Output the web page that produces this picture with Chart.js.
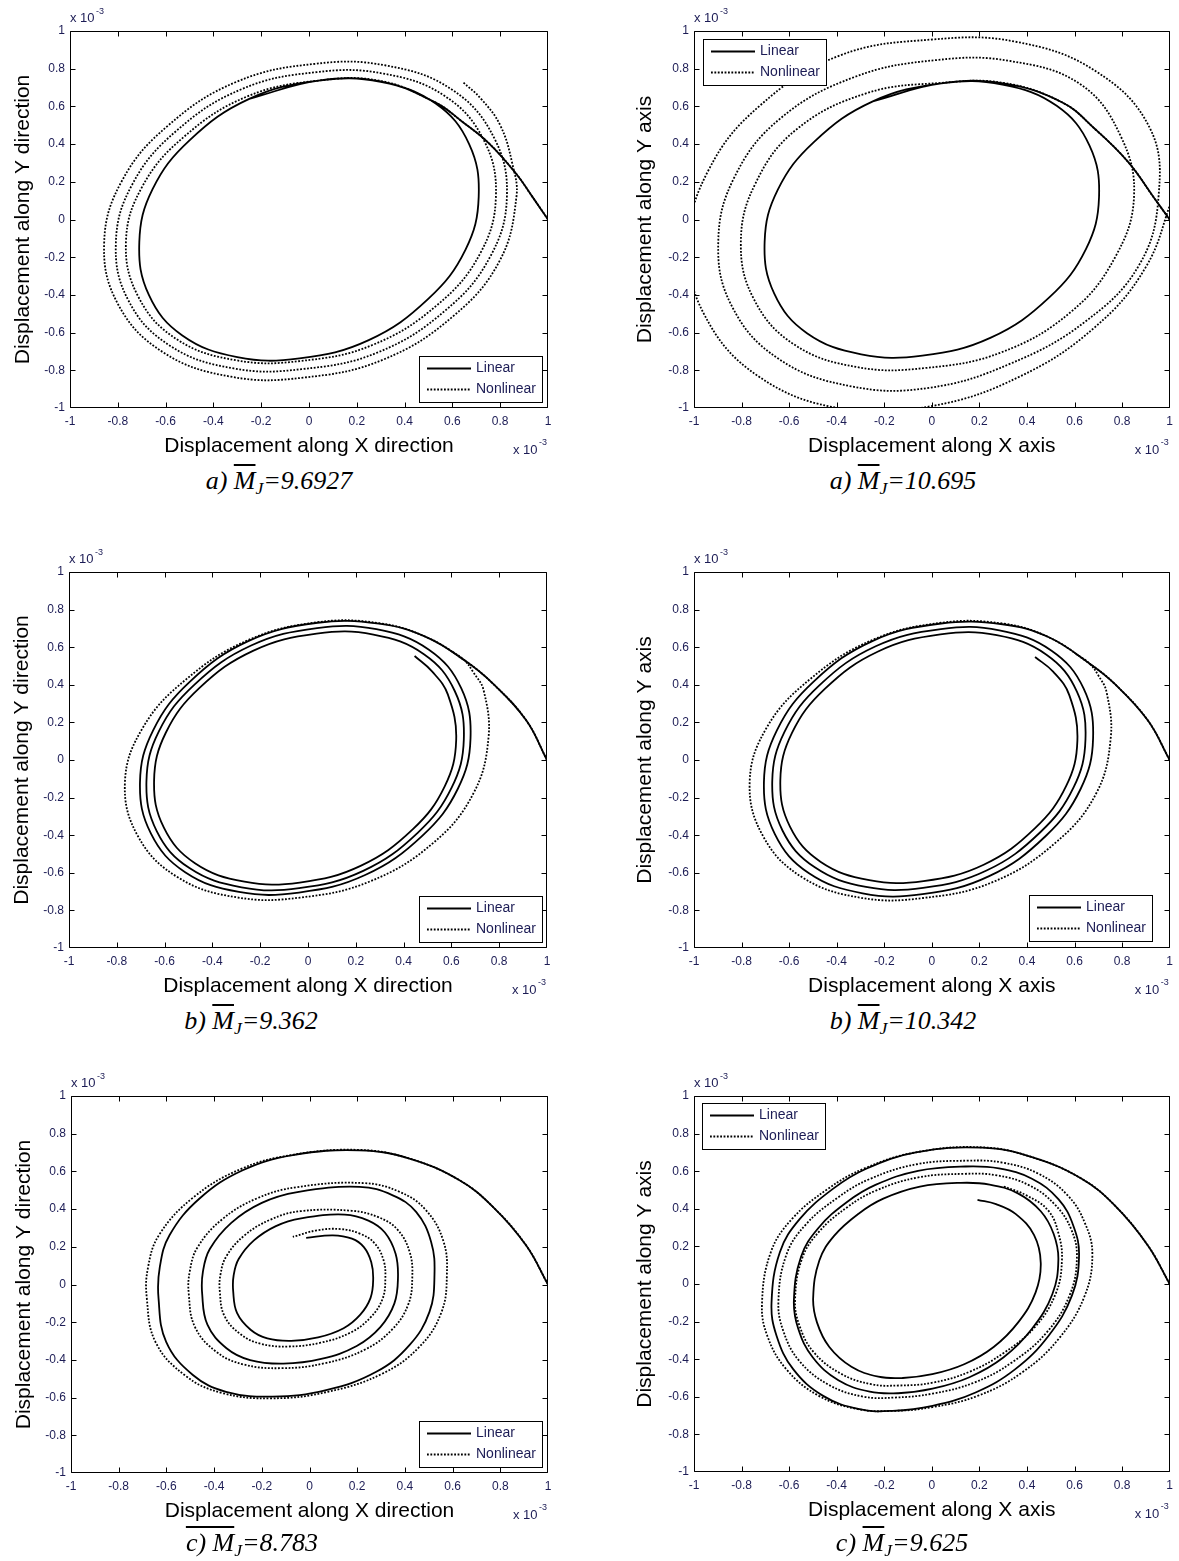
<!DOCTYPE html>
<html><head><meta charset="utf-8">
<script src="https://cdn.jsdelivr.net/npm/chart.js@4.4.1/dist/chart.umd.min.js"></script>
<style>
html,body{margin:0;padding:0;background:#fff;}
#page{position:relative;width:1179px;height:1561px;overflow:hidden;background:#fff;}
canvas{position:absolute;}
.cap{position:absolute;transform:translate(-50%,-50%);font-family:"Liberation Serif","DejaVu Serif",serif;font-style:italic;font-size:26px;white-space:nowrap;color:#000;line-height:1;}
.cap .ov{text-decoration:overline;text-decoration-thickness:1.5px;}
.cap sub{font-size:0.68em;vertical-align:-0.3em;line-height:0;}
</style></head><body><div id="page"></div>
<script>
// ---------- data ----------
const tickValues = [-1,-0.8,-0.6,-0.4,-0.2,0,0.2,0.4,0.6,0.8,1];
const seriesNames = ['Linear','Nonlinear'];
const panelLabels = ['a)','a)','b)','b)','c)','c)'];
const mValues = ['9.6927','10.695','9.362','10.342','8.783','9.625'];
const xTitles = ['Displacement along X direction','Displacement along X axis','Displacement along X direction','Displacement along X axis','Displacement along X direction','Displacement along X axis'];
const yTitles = ['Displacement along Y direction','Displacement along Y axis','Displacement along Y direction','Displacement along Y axis','Displacement along Y direction','Displacement along Y axis'];
const exponentText = ['x 10','-3'];

// panel a (left), M=9.6927
const a1Linear = [[1,0],[0.935,0.12],[0.866,0.244],[0.754,0.403],[0.64,0.52],[0.53,0.62],[0.30,0.733],
 [0.04,0.737],[-0.25,0.64],[-0.50,0.42],[-0.655,0.16],[-0.71,-0.12],[-0.67,-0.40],[-0.53,-0.615],[-0.30,-0.73],[-0.04,-0.737],[0.25,-0.64],[0.50,-0.42],[0.655,-0.16],
 [0.71,0.12],[0.67,0.40],[0.53,0.615],[0.30,0.73],[0.04,0.737],[-0.25,0.64]];
const a1Nonlinear = [[1,0],[0.935,0.12],[0.866,0.244],[0.754,0.403],[0.64,0.52],[0.53,0.62],[0.30,0.735],
 [0.04,0.737],[-0.258,0.653],[-0.523,0.439],[-0.697,0.176],[-0.766,-0.12],[-0.712,-0.415],[-0.55,-0.638],[-0.304,-0.747],[-0.038,-0.751],[0.265,-0.666],[0.538,-0.452],[0.715,-0.183],[0.782,0.12],[0.731,0.422],[0.567,0.656],[0.311,0.774],
 [0.033,0.782],[-0.281,0.692],[-0.557,0.468],[-0.737,0.192],[-0.808,-0.12],[-0.755,-0.431],[-0.58,-0.671],[-0.315,-0.79],[-0.031,-0.794],[0.288,-0.705],[0.572,-0.481],[0.757,-0.20],[0.828,0.12],[0.773,0.437],[0.597,0.69],[0.322,0.817],
 [0.026,0.826],[-0.304,0.73],[-0.591,0.497],[-0.781,0.209],[-0.857,-0.12],[-0.80,-0.447],[-0.61,-0.705],[-0.326,-0.834],[-0.024,-0.839],[0.311,-0.743],[0.606,-0.51],[0.799,-0.216],[0.868,0.12],[0.85,0.30],[0.80,0.50],[0.72,0.64],[0.643,0.73]];

// panel a (right), M=10.695
const a2Linear = [[1,0],[0.937,0.11],[0.826,0.304],[0.686,0.48],[0.547,0.622],[0.30,0.722],[0.04,0.722],
 [-0.248,0.627],[-0.495,0.412],[-0.648,0.157],[-0.703,-0.118],[-0.663,-0.392],[-0.525,-0.603],[-0.297,-0.715],[-0.04,-0.722],[0.248,-0.627],[0.495,-0.412],[0.648,-0.157],
 [0.703,0.118],[0.663,0.392],[0.525,0.603],[0.297,0.715],[0.04,0.722],[-0.248,0.627]];
const a2Nonlinear = [[1,0],[0.937,0.11],[0.826,0.304],[0.686,0.48],[0.547,0.622],[0.30,0.725],
 [0.04,0.725],[-0.274,0.67],[-0.571,0.476],[-0.741,0.193],[-0.803,-0.118],[-0.748,-0.423],[-0.579,-0.663],[-0.314,-0.783],[-0.029,-0.788],[0.294,-0.704],[0.586,-0.489],[0.769,-0.204],[0.85,0.118],[0.795,0.44],[0.626,0.716],[0.328,0.841],
 [0.02,0.846],[-0.325,0.756],[-0.639,0.534],[-0.829,0.227],[-0.898,-0.118],[-0.842,-0.457],[-0.646,-0.738],[-0.339,-0.885],[-0.012,-0.893],[0.33,-0.765],[0.647,-0.54],[0.871,-0.243],[0.953,0.118],[0.917,0.484],[0.689,0.787],[0.353,0.943],
 [0.002,0.955],[-0.391,0.868],[-0.723,0.604],[-0.936,0.269],[-1.023,-0.118],[-0.959,-0.499],[-0.729,-0.832],[-0.369,-1.006],[0.003,-0.989],[0.37,-0.833],[0.685,-0.572],[0.899,-0.254],[1.013,0.118]];

// panel b (left), M=9.362
const b1Linear = [[1,0],[0.913,0.211],[0.774,0.406],[0.655,0.53],[0.495,0.654],[0.297,0.725],
 [0.04,0.73],[-0.248,0.634],[-0.495,0.416],[-0.648,0.158],[-0.703,-0.119],[-0.657,-0.392],[-0.514,-0.597],[-0.289,-0.702],[-0.038,-0.705],[0.239,-0.612],[0.479,-0.402],[0.627,-0.153],[0.68,0.115],[0.641,0.382],[0.506,0.587],[0.286,0.696],
 [0.038,0.702],[-0.238,0.609],[-0.476,0.40],[-0.624,0.152],[-0.676,-0.114],[-0.633,-0.378],[-0.496,-0.575],[-0.278,-0.677],[-0.037,-0.682],[0.231,-0.59],[0.46,-0.386],[0.601,-0.147],[0.652,0.11],[0.614,0.367],[0.485,0.563],[0.274,0.667],
 [0.036,0.672],[-0.228,0.582],[-0.455,0.382],[-0.595,0.145],[-0.644,-0.109],[-0.603,-0.36],[-0.473,-0.549],[-0.266,-0.647],[-0.035,-0.652],[0.22,-0.563],[0.439,-0.368],[0.572,-0.14],[0.62,0.105],[0.585,0.349],[0.52,0.47],[0.446,0.553]];
const b1Nonlinear = [[1,0],[0.913,0.211],[0.774,0.406],[0.655,0.53],[0.495,0.654],[0.297,0.728],
 [0.04,0.733],[-0.25,0.638],[-0.51,0.429],[-0.69,0.174],[-0.766,-0.119],[-0.709,-0.411],[-0.541,-0.627],[-0.296,-0.731],[-0.034,-0.732],[0.259,-0.646],[0.525,-0.44],[0.692,-0.178],[0.755,0.115],[0.735,0.37],[0.69,0.47],[0.655,0.53],[0.60,0.58]];

// panel b (right), M=10.342
const b2Linear = [[1,0],[0.908,0.211],[0.768,0.406],[0.664,0.512],[0.49,0.654],[0.297,0.722],
 [0.039,0.726],[-0.248,0.634],[-0.497,0.417],[-0.651,0.159],[-0.706,-0.119],[-0.66,-0.394],[-0.518,-0.601],[-0.291,-0.709],[-0.039,-0.714],[0.241,-0.618],[0.48,-0.403],[0.626,-0.153],[0.678,0.115],[0.638,0.381],[0.502,0.583],[0.284,0.69],
 [0.038,0.696],[-0.236,0.605],[-0.473,0.397],[-0.619,0.151],[-0.671,-0.113],[-0.628,-0.375],[-0.492,-0.571],[-0.277,-0.675],[-0.037,-0.68],[0.23,-0.588],[0.457,-0.383],[0.596,-0.146],[0.646,0.109],[0.61,0.364],[0.482,0.56],[0.273,0.664],
 [0.036,0.668],[-0.226,0.577],[-0.45,0.378],[-0.588,0.144],[-0.637,-0.108],[-0.596,-0.356],[-0.467,-0.542],[-0.263,-0.639],[-0.035,-0.644],[0.218,-0.557],[0.433,-0.364],[0.565,-0.138],[0.612,0.103],[0.578,0.345],[0.51,0.47],[0.434,0.548]];
const b2Nonlinear = [[1,0],[0.908,0.211],[0.768,0.406],[0.664,0.512],[0.49,0.654],[0.297,0.726],
 [0.039,0.73],[-0.251,0.638],[-0.512,0.43],[-0.693,0.175],[-0.766,-0.119],[-0.707,-0.411],[-0.541,-0.627],[-0.297,-0.733],[-0.036,-0.734],[0.259,-0.648],[0.522,-0.438],[0.691,-0.178],[0.752,0.115],[0.735,0.36],[0.70,0.45],[0.664,0.512],[0.60,0.57]];

// panel c (left), M=8.783
const c1Linear = [[1,0],[0.908,0.208],[0.769,0.412],[0.629,0.553],[0.419,0.668],[0.21,0.712],
 [-0.07,0.686],[-0.28,0.606],[-0.461,0.456],[-0.587,0.261],[-0.628,0.09],[-0.633,-0.074],[-0.601,-0.304],[-0.489,-0.48],[-0.35,-0.569],[-0.154,-0.595],[0.07,-0.56],[0.28,-0.463],[0.419,-0.322],[0.503,-0.145],[0.524,0.049],[0.51,0.226],[0.447,0.385],[0.349,0.473],[0.21,0.518],
 [-0.051,0.49],[-0.20,0.433],[-0.328,0.327],[-0.418,0.188],[-0.447,0.067],[-0.45,-0.05],[-0.428,-0.213],[-0.348,-0.338],[-0.249,-0.401],[-0.11,-0.42],[0.049,-0.395],[0.198,-0.326],[0.297,-0.226],[0.356,-0.10],[0.371,0.038],[0.361,0.163],[0.316,0.276],[0.247,0.339],[0.148,0.371],
 [-0.035,0.351],[-0.141,0.31],[-0.233,0.234],[-0.297,0.135],[-0.318,0.049],[-0.32,-0.035],[-0.304,-0.151],[-0.247,-0.24],[-0.177,-0.286],[-0.077,-0.299],[0.036,-0.281],[0.143,-0.232],[0.213,-0.16],[0.256,-0.071],[0.267,0.028],[0.259,0.118],[0.228,0.198],[0.178,0.243],[0.098,0.261],[-0.014,0.247]];
const c1Nonlinear = [[1,0],[0.908,0.208],[0.769,0.412],[0.629,0.553],[0.419,0.668],[0.21,0.714],
 [-0.07,0.688],[-0.289,0.612],[-0.489,0.46],[-0.63,0.264],[-0.677,0.091],[-0.682,-0.075],[-0.645,-0.307],[-0.519,-0.485],[-0.368,-0.575],[-0.159,-0.604],[0.078,-0.569],[0.307,-0.472],[0.462,-0.329],[0.553,-0.148],[0.576,0.05],[0.561,0.232],[0.487,0.396],[0.377,0.492],[0.226,0.538],
 [-0.05,0.517],[-0.22,0.457],[-0.367,0.345],[-0.469,0.198],[-0.502,0.07],[-0.506,-0.053],[-0.48,-0.226],[-0.39,-0.358],[-0.277,-0.424],[-0.118,-0.444],[0.063,-0.418],[0.233,-0.345],[0.346,-0.239],[0.414,-0.106],[0.431,0.039],[0.42,0.172],[0.369,0.291],[0.289,0.357],[0.177,0.391],
 [-0.038,0.389],[-0.164,0.344],[-0.273,0.26],[-0.348,0.151],[-0.373,0.055],[-0.376,-0.037],[-0.357,-0.166],[-0.289,-0.264],[-0.206,-0.314],[-0.088,-0.329],[0.046,-0.309],[0.172,-0.255],[0.255,-0.176],[0.306,-0.077],[0.318,0.032],[0.31,0.131],[0.272,0.22],[0.213,0.269],[0.13,0.294],[0.03,0.287],[-0.07,0.253]];

// panel c (right), M=9.625
const c2Linear = [[1,0],[0.909,0.204],[0.77,0.417],[0.63,0.56],[0.421,0.675],[0.212,0.725],
 [-0.067,0.70],[-0.276,0.613],[-0.416,0.506],[-0.555,0.346],[-0.639,0.169],[-0.674,-0.10],[-0.653,-0.275],[-0.583,-0.453],[-0.457,-0.595],[-0.304,-0.666],[-0.165,-0.675],[0.003,-0.648],[0.184,-0.577],[0.351,-0.453],[0.491,-0.275],[0.589,-0.062],[0.619,0.151],[0.595,0.31],[0.533,0.45],[0.421,0.56],[0.282,0.615],[0.142,0.625],
 [-0.058,0.602],[-0.237,0.527],[-0.358,0.435],[-0.477,0.298],[-0.55,0.145],[-0.58,-0.086],[-0.562,-0.237],[-0.501,-0.39],[-0.393,-0.512],[-0.261,-0.573],[-0.142,-0.581],[0.003,-0.557],[0.158,-0.496],[0.302,-0.39],[0.422,-0.237],[0.507,-0.053],[0.532,0.13],[0.512,0.267],[0.458,0.387],[0.362,0.482],[0.243,0.529],[0.122,0.538],
 [-0.05,0.518],[-0.204,0.454],[-0.308,0.374],[-0.411,0.256],[-0.473,0.125],[-0.499,-0.074],[-0.483,-0.204],[-0.431,-0.335],[-0.338,-0.44],[-0.225,-0.493],[-0.122,-0.50],[0.002,-0.48],[0.136,-0.427],[0.26,-0.335],[0.363,-0.204],[0.436,-0.046],[0.458,0.112],[0.43,0.26],[0.352,0.373],[0.27,0.425],[0.192,0.448]];
const c2Nonlinear = [[1,0],[0.909,0.204],[0.77,0.417],[0.63,0.56],[0.421,0.675],[0.212,0.727],
 [-0.069,0.70],[-0.287,0.613],[-0.437,0.506],[-0.588,0.346],[-0.677,0.169],[-0.714,-0.10],[-0.692,-0.275],[-0.612,-0.453],[-0.475,-0.595],[-0.31,-0.666],[-0.165,-0.675],[0.003,-0.655],[0.195,-0.594],[0.379,-0.471],[0.535,-0.289],[0.642,-0.065],[0.675,0.158],[0.643,0.326],[0.57,0.473],[0.446,0.588],[0.296,0.646],[0.149,0.656],
 [-0.064,0.637],[-0.262,0.558],[-0.395,0.46],[-0.531,0.315],[-0.612,0.154],[-0.645,-0.09],[-0.625,-0.248],[-0.558,-0.408],[-0.434,-0.536],[-0.289,-0.599],[-0.157,-0.604],[0.003,-0.583],[0.177,-0.525],[0.337,-0.417],[0.484,-0.256],[0.58,-0.058],[0.61,0.142],[0.586,0.291],[0.517,0.423],[0.408,0.526],[0.274,0.578],[0.138,0.586],
 [-0.057,0.567],[-0.235,0.497],[-0.354,0.41],[-0.473,0.28],[-0.545,0.137],[-0.575,-0.08],[-0.557,-0.22],[-0.497,-0.362],[-0.384,-0.476],[-0.255,-0.533],[-0.139,-0.54],[0.003,-0.525],[0.158,-0.467],[0.302,-0.367],[0.434,-0.228],[0.521,-0.051],[0.547,0.125],[0.533,0.267],[0.49,0.39],[0.40,0.47],[0.30,0.52]];

// ---------- layout / style ----------
const panels = [
  {lin:a1Linear, non:a1Nonlinear, area:[70,31,478,377], rightPad:45, yTitlePad:10.5, legend:{corner:'br',dx:6,dy:6}, cap:[279,481], capOver:false},
  {lin:a2Linear, non:a2Nonlinear, area:[694,31,478,377], rightPad:7, yTitlePad:8.5, legend:{corner:'tl',dx:9,dy:8}, cap:[903,481], capOver:false},
  {lin:b1Linear, non:b1Nonlinear, area:[69,572,478,376], rightPad:45, yTitlePad:10.5, legend:{corner:'br',dx:5,dy:6}, cap:[251,1021], capOver:false},
  {lin:b2Linear, non:b2Nonlinear, area:[694,572,478,376], rightPad:7, yTitlePad:8.5, legend:{corner:'br',dx:18,dy:7}, cap:[903,1021], capOver:false},
  {lin:c1Linear, non:c1Nonlinear, area:[71,1096,477,377], rightPad:45, yTitlePad:10.5, legend:{corner:'br',dx:6,dy:6}, cap:[252,1543], capOver:true},
  {lin:c2Linear, non:c2Nonlinear, area:[694,1096,478,376], rightPad:7, yTitlePad:8.5, legend:{corner:'tl',dx:8,dy:7}, cap:[902,1543], capOver:false}
];
const tickColor = '#1c1c55';
const fontFam = '"Liberation Sans", Arial, sans-serif';
const PADL = 70, PADT = 31, PADB = 56;

function fmt(v){ const r = Math.round(v*10)/10; return r === 0 ? '0' : String(r); }
function toXY(arr){ return arr.map(p => ({x:p[0], y:p[1]})); }

const framePlugin = {
  id:'frame',
  afterDatasetsDraw(chart){
    const {ctx, chartArea:a, scales:{x, y}} = chart;
    ctx.save();
    ctx.strokeStyle = '#000'; ctx.lineWidth = 1;
    const L = Math.round(a.left)+0.5, R = Math.round(a.right)-0.5, T = Math.round(a.top)+0.5, B = Math.round(a.bottom)-0.5;
    ctx.beginPath();
    ctx.rect(L, T, R-L, B-T);
    for (const v of tickValues){
      let px = Math.round(x.getPixelForValue(v))+0.5; px = Math.min(Math.max(px, L), R);
      ctx.moveTo(px, B); ctx.lineTo(px, B-5);
      ctx.moveTo(px, T); ctx.lineTo(px, T+5);
      let py = Math.round(y.getPixelForValue(v))+0.5; py = Math.min(Math.max(py, T), B);
      ctx.moveTo(L, py); ctx.lineTo(L+5, py);
      ctx.moveTo(R, py); ctx.lineTo(R-5, py);
    }
    ctx.stroke();
    ctx.restore();
  },
  afterDraw(chart){
    const {ctx, chartArea:a} = chart;
    ctx.save();
    ctx.fillStyle = tickColor; ctx.textBaseline = 'middle'; ctx.textAlign = 'left';
    ctx.font = '13px ' + fontFam;
    ctx.fillText(exponentText[0], a.left, a.top - 13);
    ctx.fillText(exponentText[0], a.right - 35, a.bottom + 42);
    ctx.font = '9px ' + fontFam;
    ctx.fillText(exponentText[1], a.left + 26, a.top - 19);
    ctx.fillText(exponentText[1], a.right - 9, a.bottom + 35);
    ctx.restore();
  }
};

const legendPlugin = {
  id:'mlegend',
  afterDraw(chart, args, opts){
    const {ctx, chartArea:a} = chart;
    const w = 123, h = 46;
    let x0, y0;
    if (opts.corner === 'br'){ x0 = Math.round(a.right - opts.dx - w); y0 = Math.round(a.bottom - opts.dy - h); }
    else { x0 = Math.round(a.left + opts.dx); y0 = Math.round(a.top + opts.dy); }
    ctx.save();
    ctx.fillStyle = '#fff'; ctx.fillRect(x0, y0, w, h);
    ctx.strokeStyle = '#000'; ctx.lineWidth = 1; ctx.strokeRect(x0+0.5, y0+0.5, w, h);
    chart.data.datasets.forEach((ds, i) => {
      const yy = Math.round(y0 + 12 + i*20.5) + 0.5;
      ctx.beginPath();
      ctx.setLineDash(ds.borderDash || []);
      ctx.lineWidth = ds.borderWidth; ctx.strokeStyle = ds.borderColor;
      ctx.moveTo(x0+8, yy); ctx.lineTo(x0+52, yy); ctx.stroke();
      ctx.setLineDash([]);
      ctx.fillStyle = tickColor; ctx.font = '14px ' + fontFam;
      ctx.textBaseline = 'middle'; ctx.textAlign = 'left';
      ctx.fillText(ds.label, x0+57, yy);
    });
    ctx.restore();
  }
};

const page = document.getElementById('page');
panels.forEach((p, i) => {
  const [L, T, W, H] = p.area;
  const cw = PADL + W + p.rightPad, ch = PADT + H + PADB;
  const cv = document.createElement('canvas');
  cv.width = cw; cv.height = ch;
  cv.style.left = (L - PADL) + 'px'; cv.style.top = (T - PADT) + 'px';
  cv.style.width = cw + 'px'; cv.style.height = ch + 'px';
  page.appendChild(cv);
  new Chart(cv, {
    type:'scatter',
    data:{datasets:[
      {label:seriesNames[0], data:toXY(p.lin), showLine:true, borderColor:'#000', borderWidth:1.8, pointRadius:0, tension:0.4, clip:0, fill:false},
      {label:seriesNames[1], data:toXY(p.non), showLine:true, borderColor:'#000', borderWidth:1.8, borderDash:[1.8,1.6], pointRadius:0, tension:0.4, clip:0, fill:false}
    ]},
    options:{
      responsive:false, animation:false, devicePixelRatio:1,
      layout:{padding:{left:0, top:PADT, right:p.rightPad, bottom:0}},
      elements:{line:{capBezierPoints:false}},
      plugins:{legend:{display:false}, tooltip:{enabled:false}, mlegend:p.legend},
      scales:{
        x:{type:'linear', min:-1, max:1, position:'bottom',
          grid:{display:false, drawTicks:false}, border:{display:false},
          afterBuildTicks:s => { s.ticks = tickValues.map(v => ({value:v})); },
          afterFit:s => { s.height = PADB; },
          ticks:{autoSkip:false, maxRotation:0, minRotation:0, padding:6, color:tickColor, font:{family:fontFam, size:12}, callback:fmt},
          title:{display:true, text:xTitles[i], color:'#000', font:{family:fontFam, size:21}, padding:{top:0, bottom:5}}
        },
        y:{type:'linear', min:-1, max:1, position:'left',
          grid:{display:false, drawTicks:false}, border:{display:false},
          afterBuildTicks:s => { s.ticks = tickValues.map(v => ({value:v})); },
          afterFit:s => { s.width = PADL; },
          ticks:{autoSkip:false, padding:5, color:tickColor, font:{family:fontFam, size:12}, callback:fmt},
          title:{display:true, text:yTitles[i], color:'#000', font:{family:fontFam, size:21}, padding:{top:p.yTitlePad, bottom:0}}
        }
      }
    },
    plugins:[framePlugin, legendPlugin]
  });
  const cap = document.createElement('div');
  cap.className = 'cap';
  cap.style.left = p.cap[0] + 'px'; cap.style.top = p.cap[1] + 'px';
  if (p.capOver) cap.innerHTML = '<span class="ov">' + panelLabels[i] + ' M</span><sub>J</sub>=' + mValues[i];
  else cap.innerHTML = panelLabels[i] + ' <span class="ov">M</span><sub>J</sub>=' + mValues[i];
  page.appendChild(cap);
});
</script></body></html>
